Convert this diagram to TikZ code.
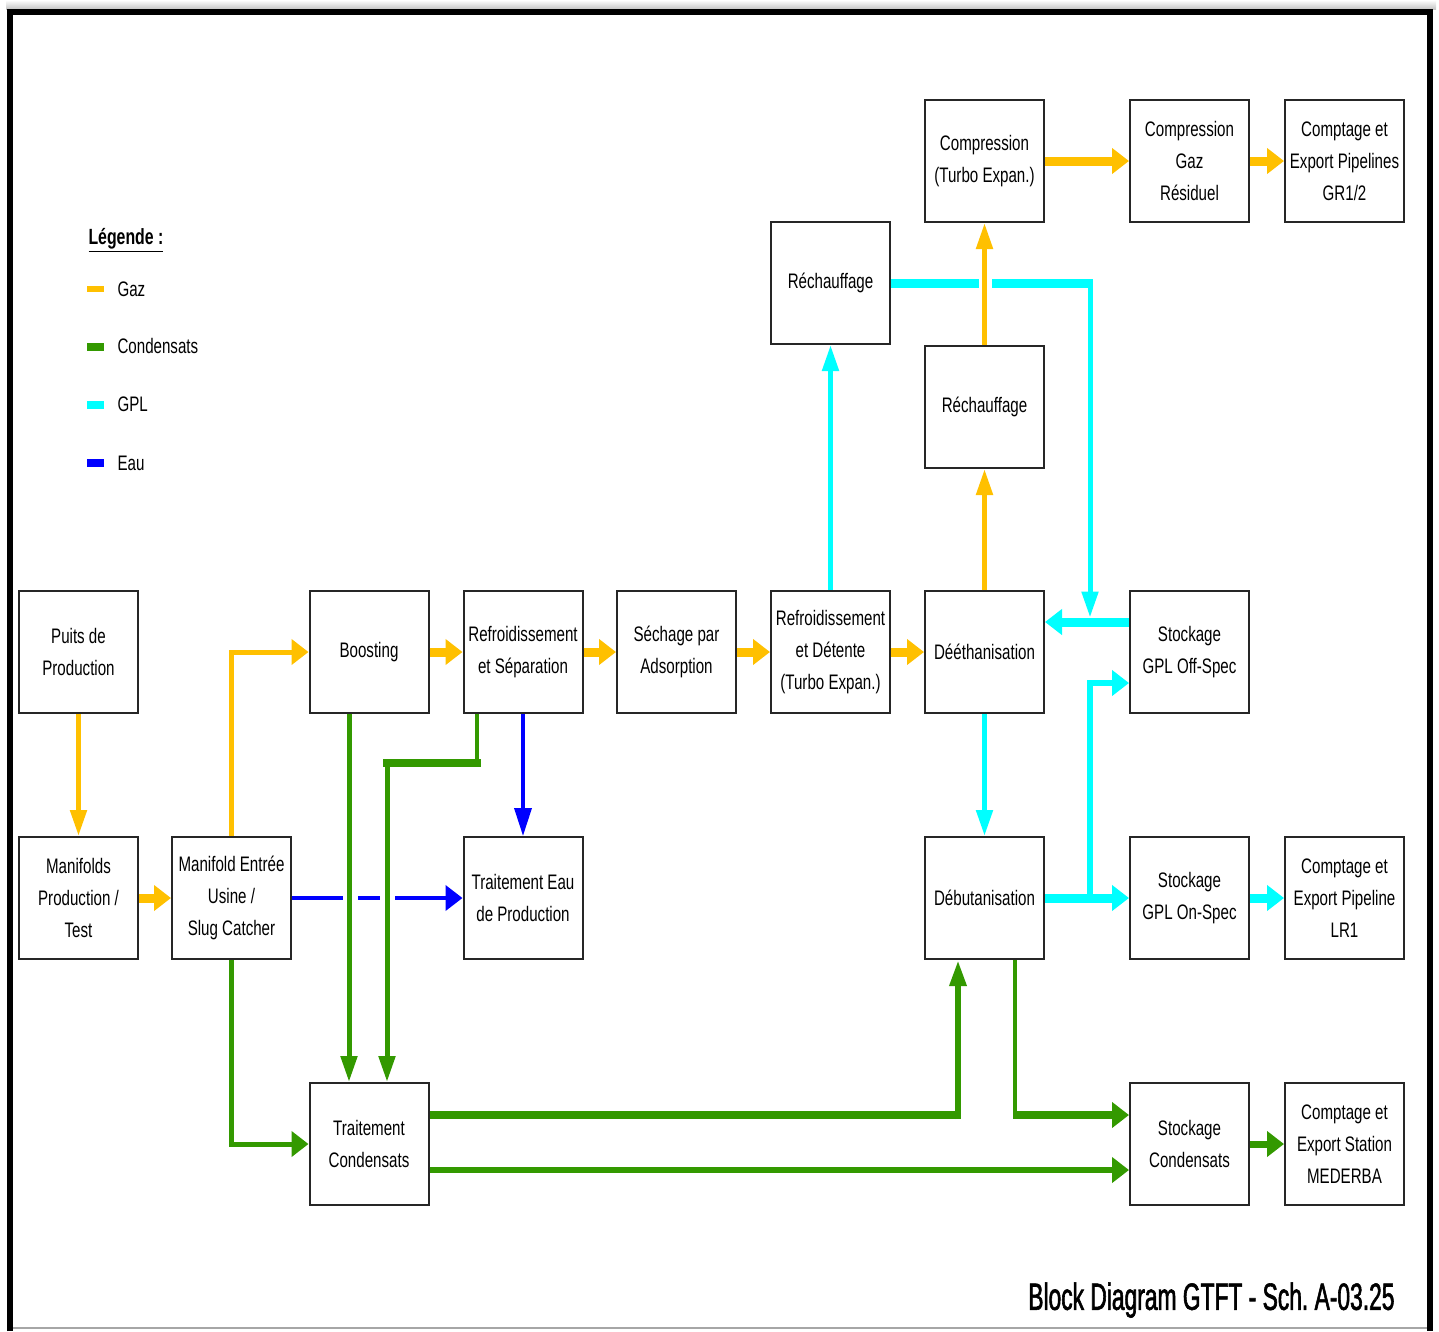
\documentclass[tikz,border=0pt]{standalone}
\usepackage{fontspec}
\setmainfont{Liberation Sans}[FakeStretch=0.72]
\newfontfamily\titlefont{Liberation Sans}[FakeStretch=0.6, FakeBold=1.5]
\usepackage{tikz}
\usetikzlibrary{arrows.meta,calc}

\definecolor{gazc}{RGB}{255,192,0}
\definecolor{condc}{RGB}{51,153,0}
\definecolor{gplc}{RGB}{0,255,255}
\definecolor{eauc}{RGB}{0,0,255}
\frenchspacing

\begin{document}
\begin{tikzpicture}[x=1pt, y=-1pt,
    every node/.style={font=\fontsize{21}{32}\selectfont},
    blk/.style={draw=black!85, line width=2pt, fill=white, minimum width=119pt,
        minimum height=122pt, inner sep=0pt, align=center},
    narrowhead/.style={-{Triangle[length=26pt,width=16pt]}},
    widehead/.style={-{Triangle[length=17pt,width=25pt]}},
    thinflow/.style={line width=5pt, narrowhead},
    fatflow/.style={line width=9pt, widehead},
    gaz/.style={draw=gazc}, cond/.style={draw=condc},
    gpl/.style={draw=gplc}, eau/.style={draw=eauc}]

\useasboundingbox (0,0) rectangle (1439,1331);

% Frame
\shade[top color=white, bottom color=gray!45] (6,0) rectangle (1436,9);
\draw[gray!70, line width=2pt] (10,1328) -- (1430,1328);
\draw[line width=6pt] (10,1331) -- (10,12) -- (1430,12) -- (1430,1331);

% Legend
\node[anchor=west, font=\fontsize{22}{26}\selectfont\bfseries] (leg) at (85,240) {\underline{Légende :}};
\fill[gazc] (87,286) rectangle (104,292);
\node[anchor=west] (lgaz) at (114,289) {Gaz};
\fill[condc] (87,343) rectangle (104,351);
\node[anchor=west] (lcond) at (114,346) {Condensats};
\fill[gplc] (87,401) rectangle (104,409);
\node[anchor=west] (lgpl) at (114,404) {GPL};
\fill[eauc] (87,459) rectangle (104,467);
\node[anchor=west] (leau) at (114,463) {Eau};

% Blocks, top rows
\node[blk] (comp) at (984.5,161) {Compression\\(Turbo Expan.)};
\node[blk] (compgaz) at (1189.5,161) {Compression\\Gaz\\Résiduel};
\node[blk] (exgr) at (1344.5,161) {Comptage et\\Export Pipelines\\GR1/2};
\node[blk] (rech1) at (830.5,283) {Réchauffage};
\node[blk] (rech2) at (984.5,407) {Réchauffage};

% Blocks, main row
\node[blk] (puits) at (78.5,652) {Puits de\\Production};
\node[blk] (boost) at (369,652) {Boosting};
\node[blk] (refsep) at (523,652) {Refroidissement\\et Séparation};
\node[blk] (sechage) at (676.5,652) {Séchage par\\Adsorption};
\node[blk] (refdet) at (830.5,652) {Refroidissement\\et Détente\\(Turbo Expan.)};
\node[blk] (deeth) at (984.5,652) {Dééthanisation};
\node[blk] (offspec) at (1189.5,652) {Stockage\\GPL Off-Spec};

% Blocks, second row
\node[blk] (manif) at (78.5,898) {Manifolds\\Production /\\Test};
\node[blk] (entree) at (231.5,898) {Manifold Entrée\\Usine /\\Slug Catcher};
\node[blk] (eau) at (523,898) {Traitement Eau\\de Production};
\node[blk] (debut) at (984.5,898) {Débutanisation};
\node[blk] (onspec) at (1189.5,898) {Stockage\\GPL On-Spec};
\node[blk] (exlr) at (1344.5,898) {Comptage et\\Export Pipeline\\LR1};

% Blocks, bottom row
\node[blk] (tcond) at (369,1144) {Traitement\\Condensats};
\node[blk] (stcond) at (1189.5,1144) {Stockage\\Condensats};
\node[blk] (exmed) at (1344.5,1144) {Comptage et\\Export Station\\MEDERBA};

% Bend points
\coordinate (gtop) at (1090,283);
\coordinate (gland) at (1090,617.5);
\coordinate (gbr) at (1090,898);
\coordinate (rs1) at (477,763);
\coordinate (rs2) at (387,763);
\coordinate (tc1) at (958,1115);
\coordinate (db1) at (1015,1115);

% Gaz
\draw[gaz, thinflow] (puits.south) -- (manif.north);
\draw[gaz, fatflow] (manif.east) -- (entree.west);
\draw[gaz, line width=5pt, widehead] (entree.north) |- (boost.west);
\draw[gaz, fatflow] (boost.east) -- (refsep.west);
\draw[gaz, fatflow] (refsep.east) -- (sechage.west);
\draw[gaz, fatflow] (sechage.east) -- (refdet.west);
\draw[gaz, fatflow] (refdet.east) -- (deeth.west);
\draw[gaz, thinflow] (deeth.north) -- (rech2.south);
\draw[gaz, thinflow] (rech2.north) -- (comp.south);
\draw[gaz, fatflow] (comp.east) -- (compgaz.west);
\draw[gaz, fatflow] (compgaz.east) -- (exgr.west);

% GPL
\draw[gpl, thinflow] (refdet.north) -- (rech1.south);
\draw[gpl, line width=9pt, dash pattern=on 88pt off 13pt on 300pt] (rech1.east) -- ($(gtop)+(2.5,0)$);
\draw[gpl, thinflow] ($(gtop)+(0,4.5)$) -- (gland);
\draw[gpl, fatflow] ($(offspec.west)+(0,-30)$) -- ($(deeth.east)+(0,-30)$);
\draw[gpl, thinflow] (deeth.south) -- (debut.north);
\draw[gpl, line width=6pt, widehead] (gbr) |- ($(offspec.west)+(0,31)$);
\draw[gpl, fatflow] (debut.east) -- (onspec.west);
\draw[gpl, fatflow] (onspec.east) -- (exlr.west);

% Condensats
\draw[cond, line width=5pt, widehead] (entree.south) |- (tcond.west);
\draw[cond, thinflow] ($(boost.south)+(-20,0)$) -- ($(tcond.north)+(-20,0)$);
\draw[cond, line width=4pt] ($(refsep.south)+(-46,0)$) -- (rs1);
\draw[cond, line width=8pt, line cap=rect] (rs1) -- (rs2);
\draw[cond, thinflow] (rs2) -- (rs2 |- tcond.north);
\draw[cond, line width=8pt] ($(tcond.east)+(0,-29)$) -- ($(tc1)+(3,0)$);
\draw[cond, line width=6pt, narrowhead] ($(tc1)+(0,4)$) -- (tc1 |- debut.south);
\draw[cond, line width=6pt, widehead] ($(tcond.east)+(0,26)$) -- ($(stcond.west)+(0,26)$);
\draw[cond, line width=4pt] ($(debut.south)+(30.5,0)$) -- ($(db1)+(0,4)$);
\draw[cond, line width=8pt, widehead] ($(db1)+(-2,0)$) -- (db1 -| stcond.west);
\draw[cond, line width=7pt, widehead] (stcond.east) -- (exmed.west);

% Eau
\draw[eau, line width=3.5pt, -{Triangle[length=28pt,width=17pt]}] (refsep.south) -- (eau.north);
\draw[eau, line width=4pt, widehead, dash pattern=on 51pt off 15pt on 22pt off 15pt on 200pt] (entree.east) -- (eau.west);

% Title
\node[anchor=east, font=\titlefont\fontsize{38}{40}\selectfont] (titre) at (1398,1300) {Block Diagram GTFT - Sch. A-03.25};

\end{tikzpicture}
\end{document}
